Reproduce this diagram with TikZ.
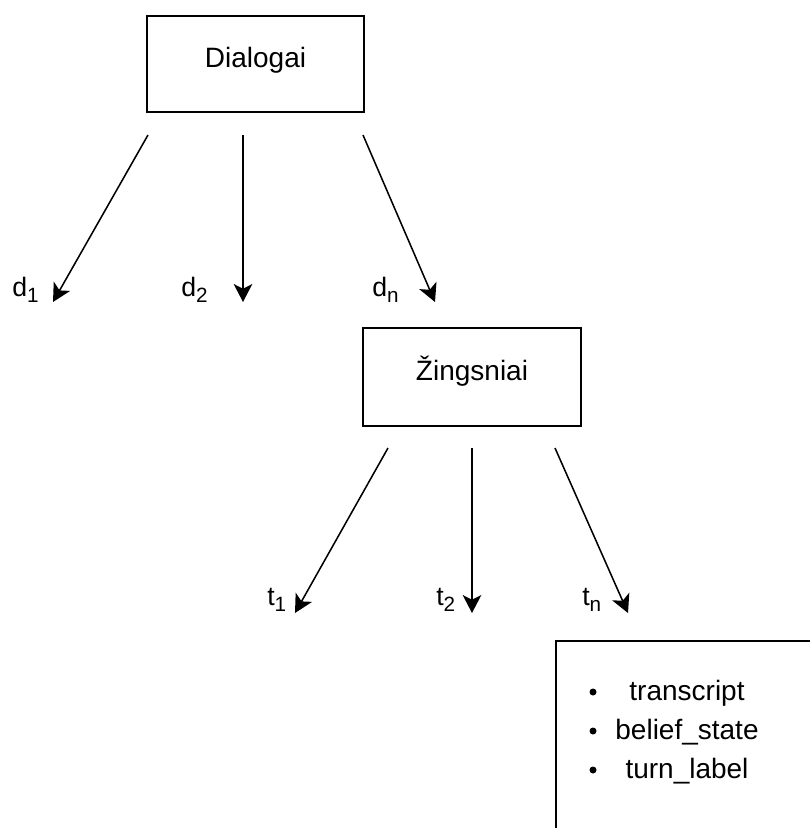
\documentclass[tikz,border=0pt]{standalone}
\usepackage{fontspec}
\setmainfont{Liberation Sans}
\usetikzlibrary{arrows.meta}
\newcommand\lowsub[1]{\raisebox{-5pt}{\fontsize{15.5}{18}\selectfont #1}}
\begin{document}
\begin{tikzpicture}[x=0.75pt,y=-0.75pt,
  box/.style={draw, line width=1pt, inner sep=0pt,
    font=\fontsize{21}{25}\selectfont, text height=0.73em, text depth=0.21em},
  arr/.style={line width=1.15pt, -{Stealth[length=13.5pt,width=14pt,inset=3.5pt]}},
  lbl/.style={anchor=base west, inner sep=0pt, font=\fontsize{20}{24}\selectfont},
  item/.style={anchor=base, inner sep=0pt, font=\fontsize{21}{25}\selectfont},
  dot/.style={fill=black}]
\useasboundingbox (0,0) rectangle (810,828);
\clip (0,0) rectangle (810,828);

% top level: the set of dialogues
\node[box, minimum width=162.75pt, minimum height=72pt] (dlg) at (255.5,64) {Dialogai};

\coordinate (d1s) at (148,135); \coordinate (d1e) at (53,302);
\coordinate (d2s) at (243,135); \coordinate (d2e) at (243,302);
\coordinate (dns) at (363,135); \coordinate (dne) at (435,302);
\draw[arr] (d1s) -- (d1e);
\draw[arr] (d2s) -- (d2e);
\draw[arr] (dns) -- (dne);

\node[lbl] (ld1) at (12,296) {d\lowsub{1}};
\node[lbl] (ld2) at (181,296) {d\lowsub{2}};
\node[lbl] (ldn) at (372,296) {d\lowsub{n}};

% second level: the turns of one dialogue
\node[box, minimum width=163.5pt, minimum height=73.5pt] (zng) at (472,377) {Žingsniai};

\coordinate (t1s) at (388,448); \coordinate (t1e) at (295,613);
\coordinate (t2s) at (472,448); \coordinate (t2e) at (472,613);
\coordinate (tns) at (555,448); \coordinate (tne) at (628,613);
\draw[arr] (t1s) -- (t1e);
\draw[arr] (t2s) -- (t2e);
\draw[arr] (tns) -- (tne);

\node[lbl] (lt1) at (267,605) {t\lowsub{1}};
\node[lbl] (lt2) at (436,605) {t\lowsub{2}};
\node[lbl] (ltn) at (582,605) {t\lowsub{n}};

% fields of a single turn
\node[draw, line width=1pt, minimum width=205.5pt, minimum height=156.75pt, inner sep=0pt]
  (fields) at (693,745.5) {};
\fill[dot] (593,692) circle (3.5);
\fill[dot] (593,731) circle (3.5);
\fill[dot] (593,770) circle (3.5);
\node[item] (f1) at (687,700) {transcript};
\node[item] (f2) at (687,739) {belief\_state};
\node[item] (f3) at (687,778) {turn\_label};
\end{tikzpicture}
\end{document}
